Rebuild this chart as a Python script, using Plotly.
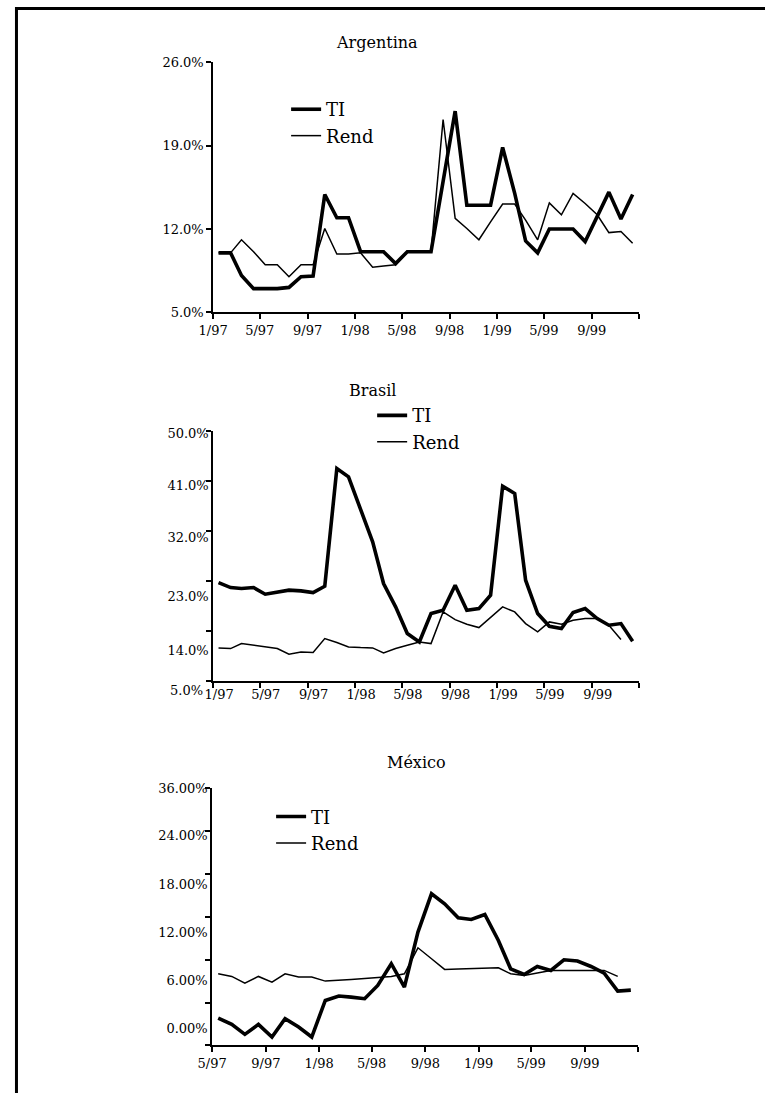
import plotly.graph_objects as go
import pandas as pd

# ---------------- data ----------------
months_36 = [f"{m}/{str(y)[2:]}" for y in (1997, 1998, 1999) for m in range(1, 13)]
months_mx = months_36[4:]  # 5/97 .. 12/99

ar_ti = [10.0, 10.0, 8.1, 7.0, 7.0, 7.0, 7.1, 8.0, 8.05, 14.9, 12.95, 12.95,
         10.1, 10.1, 10.1, 9.1, 10.1, 10.1, 10.1, 16.0, 21.9, 14.0, 14.0, 14.0,
         18.85, 15.0, 11.0, 10.0, 12.0, 12.0, 12.0, 10.95, 13.0, 15.1, 12.85, 14.9]
ar_rend = [10.0, 10.0, 11.1, 10.1, 9.0, 9.0, 8.0, 9.0, 9.0, 12.05, 9.9, 9.9,
           10.0, 8.8, 8.9, 9.0, 10.1, 10.1, 10.1, 21.2, 12.9, 12.05, 11.1, 12.6,
           14.1, 14.1, 12.75, 11.1, 14.2, 13.2, 15.0, 14.15, 13.2, 11.7, 11.8, 10.8]

br_ti = [22.76, 21.86, 21.7, 21.86, 20.66, 21.08, 21.4, 21.26, 20.96, 22.1, 43.28, 41.78,
         36.08, 30.08, 22.58, 18.38, 13.58, 12.08, 17.18, 17.78, 22.28, 17.78, 18.08, 20.48,
         40.1, 38.78, 23.18, 17.18, 14.9, 14.48, 17.36, 18.08, 16.28, 15.08, 15.38, 12.2]
br_rend = [11.0, 10.88, 11.78, 11.48, 11.18, 10.88, 9.86, 10.28, 10.16, 12.68, 11.96, 11.18,
           11.06, 11.0, 10.1, 10.88, 11.48, 12.08, 11.78, 17.48, 16.1, 15.26, 14.66, 16.46,
           18.38, 17.48, 15.38, 13.88, 15.68, 15.26, 15.98, 16.28, 16.28, 15.08, 12.5]

mx_ti = [1.35, 0.56, -0.68, 0.56, -1.01, 1.26, 0.23, -1.01, 3.54, 4.08, 3.95, 3.75,
         5.4, 8.1, 5.2, 12.03, 16.79, 15.55, 13.81, 13.6, 14.22, 10.99, 7.47, 6.77,
         7.76, 7.27, 8.59, 8.43, 7.76, 6.94, 4.7, 4.82]
mx_rend = [6.85, 6.52, 5.69, 6.52, 5.81, 6.85, 6.44, 6.44, 5.94, 6.02, 6.15, 6.27,
           6.4, 6.52, 6.85, 10.08, 8.72, 7.39, 7.43, 7.47, 7.52, 7.6, 6.85, 6.65,
           6.94, 7.27, 7.27, 7.27, 7.27, 7.27, 6.52]

ar_ticks = ["1/97", "5/97", "9/97", "1/98", "5/98", "9/98", "1/99", "5/99", "9/99", ""]
mx_ticks = ["5/97", "9/97", "1/98", "5/98", "9/98", "1/99", "5/99", "9/99", ""]

ar_ylabels = ["5.0%", "12.0%", "19.0%", "26.0%"]
br_ylabels = ["50.0%", "41.0%", "32.0%", "23.0%", "14.0%"]
br_bottom_label = "5.0%"
mx_ylabels = ["0.00%", "6.00%", "12.00%", "18.00%", "24.00%", "36.00%"]

# ---------------- layout helpers ----------------
W, H = 765, 1101
FONT = "DejaVu Serif"
# the captured picture shows the page slightly inset and reduced;
# positions below are given in picture pixels and converted here
SX, OX = 0.98, 15.0
SY, OY = 0.986, 7.0


def fx(t):
    return ((t - OX) / SX) / W


def fy(t):
    return 1 - ((t - OY) / SY) / H


def to_date(lbl):
    m, y = lbl.split("/")
    return pd.Timestamp(year=1900 + int(y) if int(y) > 50 else 2000 + int(y), month=int(m), day=15)


def tick_dates(start_label, n):
    s = to_date(start_label).replace(day=1)
    return [s + pd.DateOffset(months=4 * k) for k in range(n)]


x_ar = [to_date(m) for m in months_36]
x_mx = [to_date(m) for m in months_mx]

fig = go.Figure()

THICK = 3.6
THIN = 1.5

fig.add_trace(go.Scatter(x=x_ar, y=ar_ti, name="TI", mode="lines",
                         line=dict(color="black", width=THICK), xaxis="x", yaxis="y",
                         legend="legend"))
fig.add_trace(go.Scatter(x=x_ar, y=ar_rend, name="Rend", mode="lines",
                         line=dict(color="black", width=THIN), xaxis="x", yaxis="y",
                         legend="legend"))
fig.add_trace(go.Scatter(x=x_ar, y=br_ti, name="TI", mode="lines",
                         line=dict(color="black", width=THICK), xaxis="x2", yaxis="y2",
                         legend="legend2"))
fig.add_trace(go.Scatter(x=x_ar[:len(br_rend)], y=br_rend, name="Rend", mode="lines",
                         line=dict(color="black", width=THIN), xaxis="x2", yaxis="y2",
                         legend="legend2"))
fig.add_trace(go.Scatter(x=x_mx, y=mx_ti, name="TI", mode="lines",
                         line=dict(color="black", width=THICK), xaxis="x3", yaxis="y3",
                         legend="legend3"))
fig.add_trace(go.Scatter(x=x_mx[:len(mx_rend)], y=mx_rend, name="Rend", mode="lines",
                         line=dict(color="black", width=THIN), xaxis="x3", yaxis="y3",
                         legend="legend3"))

tickfont = dict(family=FONT, size=13, color="black")
axis_common = dict(showline=True, linecolor="black", linewidth=1.5, showgrid=False,
                   zeroline=False, ticks="outside", ticklen=5, tickwidth=1.5,
                   tickcolor="black", tickfont=tickfont, fixedrange=True)

ar_xt = tick_dates("1/97", 10)
mx_xt = tick_dates("5/97", 9)

fig.update_layout(
    xaxis=dict(domain=[fx(213), fx(639)], anchor="y", type="date",
               range=[ar_xt[0], ar_xt[-1]], tickmode="array", tickvals=ar_xt,
               ticktext=ar_ticks, **axis_common),
    yaxis=dict(domain=[fy(312.3), fy(62.3)], anchor="x", range=[5, 26],
               tickmode="array", tickvals=[5, 12, 19, 26], ticktext=ar_ylabels,
               **axis_common),
    xaxis2=dict(domain=[fx(213), fx(639)], anchor="y2", type="date",
                range=[ar_xt[0], ar_xt[-1]], tickmode="array", tickvals=ar_xt,
                ticktext=ar_ticks, ticklabelshift=6, ticklabelstandoff=-5,
                **axis_common),
    yaxis2=dict(domain=[fy(681), fy(431)], anchor="x2", range=[5, 50],
                tickmode="array", tickvals=[49.64, 40.28, 30.92, 20.3, 10.58],
                ticktext=br_ylabels,
                minor=dict(tickmode="array", tickvals=[5, 14, 23, 32, 41, 50],
                           ticks="outside", ticklen=5, tickwidth=1.5, tickcolor="black"),
                **{**axis_common, "ticklen": 0}),
    xaxis3=dict(domain=[fx(212), fx(638)], anchor="y3", type="date",
                range=[mx_xt[0], mx_xt[-1]], tickmode="array", tickvals=mx_xt,
                ticktext=mx_ticks, **axis_common),
    yaxis3=dict(domain=[fy(1045), fy(788)], anchor="x3", range=[-2.05, 29.9],
                tickmode="array", tickvals=[0, 6, 12, 18, 24, 29.84],
                ticktext=mx_ylabels,
                minor=dict(tickmode="array",
                           tickvals=[-2.05, 3.27, 8.59, 13.91, 19.23, 24.56, 29.9],
                           ticks="outside", ticklen=5, tickwidth=1.5, tickcolor="black"),
                **{**axis_common, "ticklen": 0}),
)

legend_common = dict(font=dict(family=FONT, size=18, color="black"),
                     bgcolor="rgba(0,0,0,0)", borderwidth=0, traceorder="normal",
                     itemwidth=30, xanchor="left", yanchor="top")
fig.update_layout(
    legend=dict(x=fx(286), y=fy(91), **legend_common),
    legend2=dict(x=fx(372), y=fy(397), **legend_common),
    legend3=dict(x=fx(271), y=fy(798), **legend_common),
)

title_font = dict(family=FONT, size=16, color="black")
fig.add_annotation(text="Argentina", x=fx(377), y=fy(42), xref="paper", yref="paper",
                   showarrow=False, font=title_font, xanchor="center", yanchor="middle")
fig.add_annotation(text="Brasil", x=fx(372), y=fy(390), xref="paper", yref="paper",
                   showarrow=False, font=title_font, xanchor="center", yanchor="middle")
fig.add_annotation(text="México", x=fx(416), y=fy(762), xref="paper", yref="paper",
                   showarrow=False, font=title_font, xanchor="center", yanchor="middle")
fig.add_annotation(text=br_bottom_label, x=fx(205), y=fy(690), xref="paper", yref="paper",
                   showarrow=False, font=tickfont, xanchor="right", yanchor="middle")

# page frame (top and left rule), as close to the page edge as can be drawn
fig.add_shape(type="line", xref="paper", yref="paper", x0=0, x1=1,
              y0=1 - 1.5 / H, y1=1 - 1.5 / H, line=dict(color="black", width=3))
fig.add_shape(type="line", xref="paper", yref="paper", x0=1.5 / W, x1=1.5 / W,
              y0=0, y1=1, line=dict(color="black", width=3))

fig.update_layout(width=W, height=H, margin=dict(l=0, r=0, t=0, b=0),
                  paper_bgcolor="white", plot_bgcolor="white", showlegend=True)

fig.write_html(
    "out.html",
    config={"displayModeBar": False},
    post_script="document.body.style.margin='0';document.body.style.overflow='hidden';",
)
